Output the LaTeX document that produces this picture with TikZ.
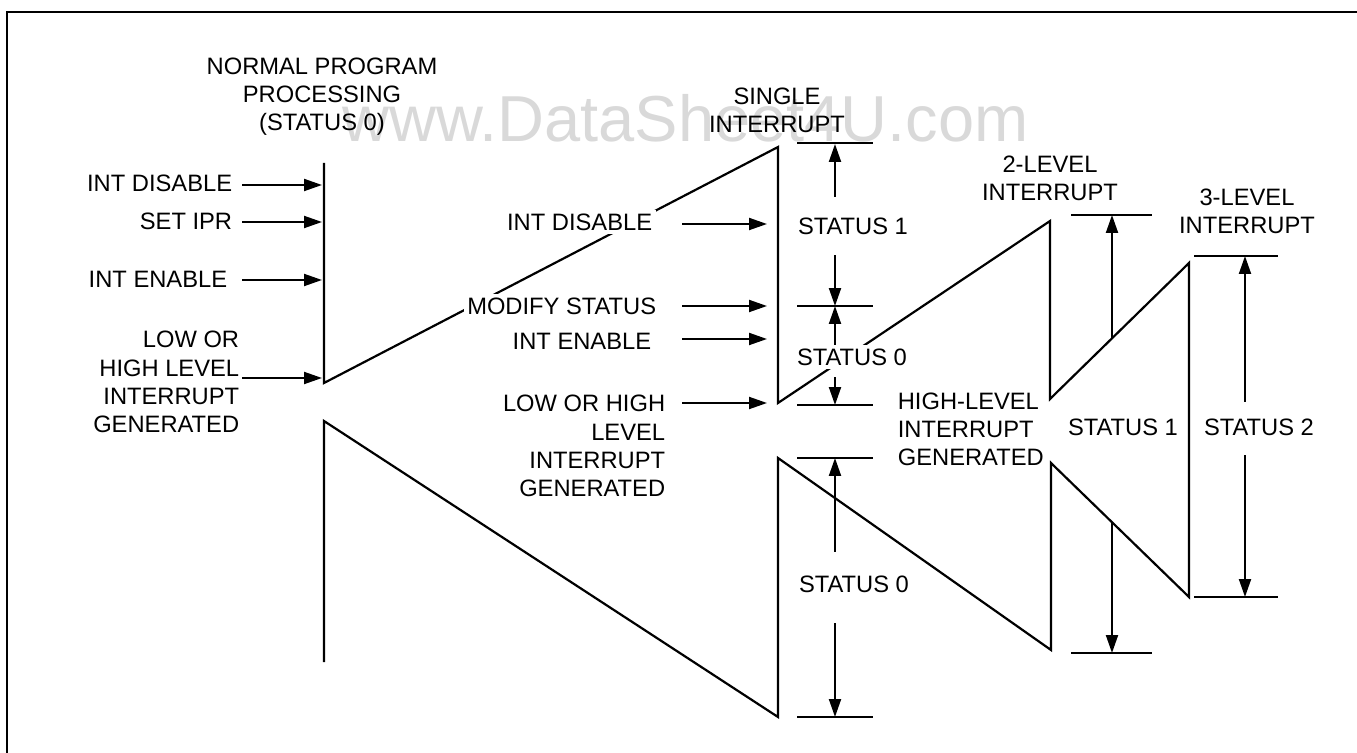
\documentclass[tikz,border=0pt]{standalone}
\usepackage{fontspec}
\setmainfont{Liberation Sans}
\usepackage{tikz}
\usetikzlibrary{positioning, arrows.meta, calc}

\begin{document}
\begin{tikzpicture}[x=0.02cm, y=-0.02cm,
    wave/.style={line width=1.25pt},
    sig/.style={line width=1.15pt, -{Triangle[length=3.6mm, width=2.4mm]}},
    lim/.style={line width=1.15pt},
    lbl/.style={font=\fontsize{13.5pt}{16pt}\selectfont, inner sep=2pt},
    lblw/.style={lbl, fill=white}]

  \useasboundingbox (0,0) rectangle (1357,753);

  % frame
  \draw[line width=1.6pt] (1357,12) -- (7,12) -- (7,753);

  % watermark
  \node[font=\fontsize{37pt}{40pt}\selectfont, text=black!15, anchor=base west, inner sep=0pt] (wm) at (342,142) {www.DataSheet4U.com};

  % sawtooth of the status levels
  \draw[wave] (324,662) -- (324,421) -- (778,717) -- (778,458) -- (1051,650) -- (1051,463)
    -- (1189,597) -- (1189,263) -- (1050,399) -- (1050,221) -- (778,403) -- (778,147)
    -- (324,383) -- (324,163);

  % limit lines
  \foreach \y in {143,306,405,458,717} \draw[lim] (797,\y) -- (873,\y);
  \draw[lim] (1071,215) -- (1152,215);
  \draw[lim] (1071,653) -- (1152,653);
  \draw[lim] (1194,256) -- (1278,256);
  \draw[lim] (1194,597) -- (1278,597);

  % headings
  \node[lbl, align=center] (norm) at (322,97) {NORMAL PROGRAM\\PROCESSING\\(STATUS 0)};
  \node[lbl, align=center] (single) at (777,110) {SINGLE\\INTERRUPT};
  \node[lbl, align=center] (two) at (1050,178) {2-LEVEL\\INTERRUPT};
  \node[lbl, align=center] (three) at (1247,211) {3-LEVEL\\INTERRUPT};
  \node[lbl, align=left, anchor=west] (hl) at (894,429) {HIGH-LEVEL\\INTERRUPT\\GENERATED};

  % inputs to normal processing
  \coordinate (lt) at (242,0);
  \coordinate (a1) at (322,185);
  \coordinate (a2) at (322,222);
  \coordinate (a3) at (322,280);
  \coordinate (a4) at (322,378);
  \node[lbl, anchor=east] (dis0) at (236,183) {INT DISABLE};
  \node[lbl, anchor=east] (ipr) at (236,221) {SET IPR};
  \node[lbl, anchor=east] (en0) at (231,279) {INT ENABLE};
  \node[lbl, anchor=east, align=right] (irq0) at (243,382) {LOW OR\\HIGH LEVEL\\INTERRUPT\\GENERATED};
  \foreach \t in {a1,a2,a3,a4} \draw[sig] (\t -| lt) -- (\t);

  % inputs to single interrupt
  \coordinate (mt) at (682,0);
  \coordinate (b1) at (767,224);
  \coordinate (b2) at (767,306);
  \coordinate (b3) at (767,339);
  \coordinate (b4) at (767,403);
  \node[lblw, anchor=east] (dis1) at (656,222) {INT DISABLE};
  \node[lblw, anchor=east] (mod) at (660,306) {MODIFY STATUS};
  \node[lbl, anchor=east] (en1) at (655,341) {INT ENABLE};
  \node[lbl, anchor=east, align=right] (irq1) at (669,446) {LOW OR HIGH\\LEVEL\\INTERRUPT\\GENERATED};
  \foreach \t in {b1,b2,b3,b4} \draw[sig] (\t -| mt) -- (\t);

  % status spans
  \node[lbl] (st1) at (853,226) {STATUS 1};
  \node[lblw] (st2) at (852,357) {STATUS 0};
  \node[lbl] (st3) at (854,584) {STATUS 0};
  \node[lbl] (st4) at (1123,427) {STATUS 1};
  \node[lbl] (st5) at (1259,427) {STATUS 2};

  \coordinate (u1) at (835,144);
  \coordinate (u2) at (835,306);
  \coordinate (u3) at (835,405);
  \coordinate (u4) at (835,458);
  \coordinate (u5) at (835,717);
  \draw[sig] ($(st1.north -| u1)+(0,-17)$) -- (u1);
  \draw[sig] ($(st1.south -| u2)+(0,17)$) -- (u2);
  \draw[sig] (st2.north -| u3) -- (u2);
  \draw[sig] ($(st2.south -| u3)+(0,8)$) -- (u3);
  \draw[sig] ($(st3.north -| u4)+(0,-20)$) -- (u4);
  \draw[sig] ($(st3.south -| u5)+(0,27)$) -- (u5);

  \coordinate (r1) at (1112,338);
  \coordinate (r2) at (1112,522);
  \coordinate (v1) at (1112,215);
  \coordinate (v2) at (1112,653);
  \draw[sig] (r1) -- (v1);
  \draw[sig] (r2) -- (v2);

  \coordinate (w1) at (1245,256);
  \coordinate (w2) at (1245,597);
  \draw[sig] ($(st5.north -| w1)+(0,-13)$) -- (w1);
  \draw[sig] ($(st5.south -| w2)+(0,16)$) -- (w2);
\end{tikzpicture}
\end{document}
